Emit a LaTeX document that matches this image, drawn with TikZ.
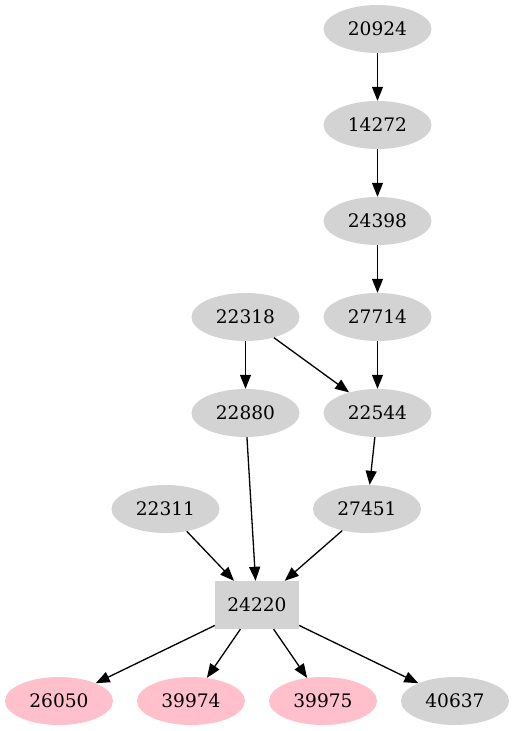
\documentclass[tikz,border=0pt]{standalone}
\usepackage{fontspec}
\setmainfont{DejaVu Serif}
\usetikzlibrary{shapes,arrows.meta,positioning}
\definecolor{nodegray}{RGB}{211,211,211}
\definecolor{nodepink}{RGB}{255,192,203}

\begin{document}
\begin{tikzpicture}[
    x=1pt, y=-1pt,
    item/.style={ellipse, fill=nodegray, minimum width=108pt, minimum height=48pt, inner sep=0pt, font=\fontsize{18.6}{20}\selectfont},
    leaf/.style={item, fill=nodepink},
    hub/.style={rectangle, fill=nodegray, minimum width=84pt, minimum height=48pt, inner sep=0pt, font=\fontsize{18.6}{20}\selectfont},
    arrow/.style={-{Triangle[length=14pt,width=11pt]}, line width=1.3pt}
]
\useasboundingbox (0,0) rectangle (514,731);

\node[item] (n20924) at (377.5,29) {20924};
\node[item] (n14272) at (377.5,125) {14272};
\node[item] (n24398) at (377.5,221) {24398};
\node[item] (n22318) at (245.5,317) {22318};
\node[item] (n27714) at (377.5,317) {27714};
\node[item] (n22880) at (245.5,413) {22880};
\node[item] (n22544) at (377.5,413) {22544};
\node[item] (n22311) at (165.5,509) {22311};
\node[item] (n27451) at (367,509) {27451};
\node[hub] (n24220) at (257,605) {24220};
\node[leaf] (n26050) at (59,701) {26050};
\node[leaf] (n39974) at (191,701) {39974};
\node[leaf] (n39975) at (323,701) {39975};
\node[item] (n40637) at (455,701) {40637};

\draw[arrow] (n20924) -- (n14272);
\draw[arrow] (n14272) -- (n24398);
\draw[arrow] (n24398) -- (n27714);
\draw[arrow] (n27714) -- (n22544);
\draw[arrow] (n22318) -- (n22880);
\draw[arrow] (n22318) -- (n22544);
\draw[arrow] (n22544) -- (n27451);
\draw[arrow] (n22880) -- (n24220);
\draw[arrow] (n22311) -- (n24220);
\draw[arrow] (n27451) -- (n24220);
\draw[arrow] (n24220) -- (n26050);
\draw[arrow] (n24220) -- (n39974);
\draw[arrow] (n24220) -- (n39975);
\draw[arrow] (n24220) -- (n40637);

\end{tikzpicture}
\end{document}
